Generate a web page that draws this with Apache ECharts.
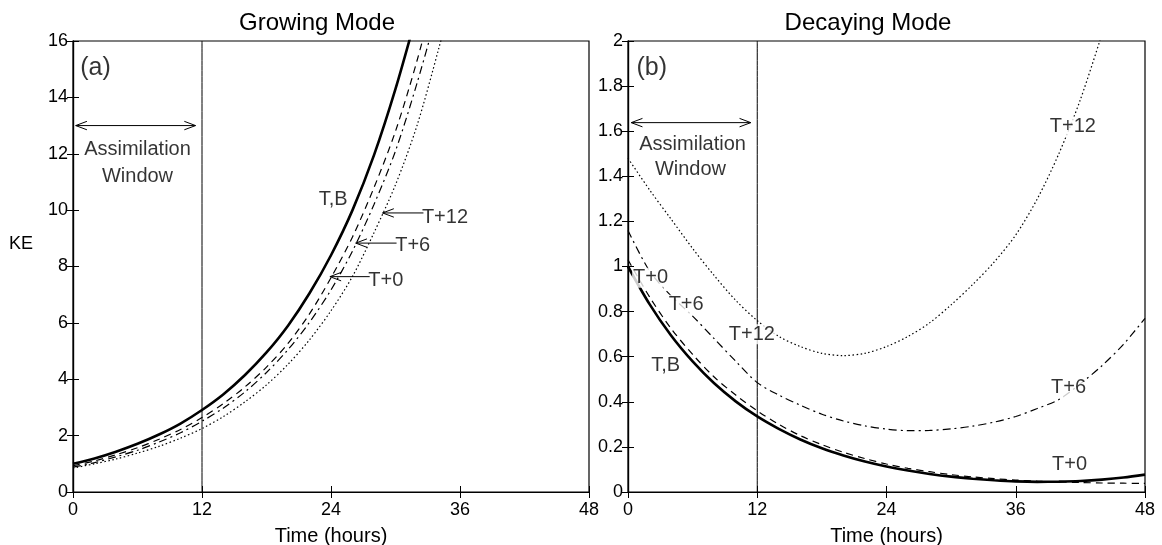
<!DOCTYPE html>
<html>
<head>
<meta charset="utf-8">
<script src="https://cdn.jsdelivr.net/npm/echarts@6/dist/echarts.min.js"></script>
<style>html,body{margin:0;padding:0;background:#fff}#c{width:1162px;height:545px}</style>
</head>
<body>
<div id="c"></div>
<script>
// ---------------- data ----------------
const xTicks = [0, 12, 24, 36, 48];
const hoursGrow = [0,2,4,6,8,10,12,14,16,18,20,22,24,26,28,30,32,34,36];
const hoursDecay = [0,2,4,6,8,10,12,14,16,18,20,22,24,26,28,30,32,34,36,38,40,42,44,46,48];

// Growing mode (a)
const growTB  = [1.00,1.19,1.43,1.71,2.04,2.43,2.91,3.47,4.15,4.95,5.90,7.05,8.40,10.0,11.95,14.3,17.0];
const growT0  = [0.93,1.10,1.32,1.57,1.87,2.22,2.64,3.14,3.73,4.43,5.27,6.32,7.60,9.05,10.8,12.8,15.3,18.2];
const growT6  = [0.88,1.04,1.25,1.48,1.77,2.10,2.51,2.98,3.55,4.24,5.05,6.02,7.17,8.55,10.2,12.1,14.5,17.2];
const growT12 = [0.85,1.00,1.17,1.38,1.62,1.91,2.25,2.68,3.20,3.80,4.53,5.40,6.43,7.65,9.20,10.9,13.0,15.7,18.6];

// Decaying mode (b)
const decTB  = [1.00,0.833,0.694,0.579,0.482,0.402,0.335,0.28,0.233,0.194,0.162,0.135,0.113,0.095,0.080,0.068,0.059,0.052,0.047,0.045,0.046,0.049,0.055,0.064,0.077];
const decT0  = [1.03,0.865,0.725,0.61,0.51,0.43,0.36,0.30,0.25,0.21,0.176,0.148,0.124,0.105,0.09,0.077,0.067,0.059,0.053,0.048,0.045,0.042,0.040,0.039,0.038];
const decT6  = [1.16,0.98,0.87,0.78,0.68,0.58,0.485,0.43,0.385,0.345,0.315,0.293,0.279,0.272,0.273,0.28,0.292,0.31,0.335,0.37,0.41,0.48,0.56,0.655,0.77];
const decT12 = [1.48,1.34,1.21,1.08,0.96,0.85,0.76,0.69,0.645,0.615,0.605,0.615,0.645,0.69,0.75,0.83,0.92,1.02,1.14,1.30,1.50,1.74,2.03];

const windowEnd = 12;
const growYMax = 16, decayYMax = 2;

// annotations: [x, y, text]
const growLabels = [[2.1, 15.05, '(a)'], [6.0, 12.15, 'Assimilation'], [6.0, 11.2, 'Window'],
  [24.2, 10.37, 'T,B'], [34.6, 9.75, 'T+12'], [31.6, 8.73, 'T+6'], [29.1, 7.5, 'T+0']];
const decayLabels = [[2.2, 1.88, '(b)'], [6.0, 1.54, 'Assimilation'], [5.8, 1.43, 'Window'],
  [2.1, 0.95, 'T+0'], [5.4, 0.83, 'T+6'], [11.5, 0.70, 'T+12'], [3.5, 0.56, 'T,B'],
  [41.3, 1.62, 'T+12'], [40.9, 0.463, 'T+6'], [41.0, 0.12, 'T+0']];
// arrows: [x1, y1, x2(tip), y2(tip), double]
const growArrows = [[0.25, 13.0, 11.4, 13.0, 1], [32.6, 9.9, 28.8, 9.9, 0], [30.1, 8.83, 26.3, 8.83, 0], [27.6, 7.64, 23.9, 7.64, 0]];
const decayArrows = [[0.3, 1.638, 11.4, 1.638, 1]];

// ---------------- chart ----------------
const FONT = "'Liberation Sans', Arial, sans-serif";
const pair = (xs, ys) => ys.map((v, i) => [xs[i], v]);

function arrowRender(params, api) {
  const a = api.coord([api.value(0), api.value(1)]);
  const b = api.coord([api.value(2), api.value(3)]);
  const dbl = api.value(4);
  const children = [{type: 'line', shape: {x1: a[0], y1: a[1], x2: b[0], y2: b[1]}, style: {stroke: '#000', lineWidth: 1}}];
  function head(tip, from) {
    const ang = Math.atan2(tip[1] - from[1], tip[0] - from[0]);
    const L = 12, w = 0.36;
    children.push({type: 'polyline', shape: {points: [
      [tip[0] - L * Math.cos(ang - w), tip[1] - L * Math.sin(ang - w)], tip,
      [tip[0] - L * Math.cos(ang + w), tip[1] - L * Math.sin(ang + w)]]},
      style: {stroke: '#000', fill: null, lineWidth: 1}});
  }
  head(b, a);
  if (dbl) head(a, b);
  return {type: 'group', children};
}

const axisCommon = {
  axisLine: {show: true, lineStyle: {color: '#000', width: 1.2}},
  axisTick: {show: true, inside: true, length: 6, lineStyle: {color: '#000', width: 1}},
  splitLine: {show: false},
};
function xAx(grid, pos, labels) {
  return Object.assign({}, axisCommon, {
    type: 'value', gridIndex: grid, position: pos, min: 0, max: 48, interval: 12,
    axisLabel: {show: labels, color: '#000', fontFamily: FONT, fontSize: 18, margin: 9},
    name: labels ? 'Time (hours)' : '', nameLocation: 'middle', nameGap: 34,
    nameTextStyle: {color: '#000', fontFamily: FONT, fontSize: 20}
  });
}
function yAx(grid, pos, labels, max, interval) {
  return Object.assign({}, axisCommon, {
    type: 'value', gridIndex: grid, position: pos, min: 0, max: max, interval: interval,
    axisLabel: {show: labels, color: '#000', fontFamily: FONT, fontSize: 18, margin: 5}
  });
}

function lineS(xi, yi, data, type, width) {
  return {type: 'line', xAxisIndex: xi, yAxisIndex: yi, data: data, showSymbol: false, symbol: 'none',
    smooth: 0.3, clip: true, animation: false,
    lineStyle: {color: '#000', width: width, type: type}, z: 3};
}
function labelS(xi, yi, labels, bg) {
  return {type: 'scatter', xAxisIndex: xi, yAxisIndex: yi, symbolSize: 1,
    data: labels.map(d => ({value: d, label: d[2].startsWith('(') ? {fontSize: 25} : {}})),
    itemStyle: {color: 'rgba(0,0,0,0)'}, animation: false, z: 5, silent: true,
    label: {show: true, position: 'inside', formatter: p => p.value[2], color: '#000',
      fontFamily: FONT, fontSize: 20, backgroundColor: bg ? '#fff' : 'transparent', padding: [0, 1]}};
}

const vLineGrow = [[windowEnd, 0], [windowEnd, growYMax]];
const vLineDecay = [[windowEnd, 0], [windowEnd, decayYMax]];

const dashed = [7, 5], dashDot = [8, 4, 2, 4], dotted = [1.5, 2.5];
const titleStyle = {fontFamily: FONT, fontSize: 24, fontWeight: 'normal', color: '#000'};

const option = {
  backgroundColor: '#fff',
  animation: false,
  title: [
    {text: 'Growing Mode', left: 312, top: 6, textAlign: 'center', textStyle: titleStyle},
    {text: 'Decaying Mode', left: 863, top: 6, textAlign: 'center', textStyle: titleStyle}
  ],
  grid: [
    {left: 73, top: 41, width: 516, height: 451, show: true, borderColor: '#000', borderWidth: 1.2,
      backgroundColor: '#fff', containLabel: false, outerBoundsMode: 'none'},
    {left: 628, top: 41, width: 517, height: 451, show: true, borderColor: '#000', borderWidth: 1.2,
      backgroundColor: '#fff', containLabel: false, outerBoundsMode: 'none'}
  ],
  xAxis: [xAx(0, 'bottom', true), xAx(0, 'top', false), xAx(1, 'bottom', true), xAx(1, 'top', false)],
  yAxis: [
    Object.assign(yAx(0, 'left', true, growYMax, 2), {name: 'KE\n\n', nameLocation: 'middle', nameRotate: 0, nameGap: 40,
      nameTextStyle: {color: '#000', fontFamily: FONT, fontSize: 18, lineHeight: 22}}),
    yAx(0, 'right', false, growYMax, 2),
    yAx(1, 'left', true, decayYMax, 0.2),
    yAx(1, 'right', false, decayYMax, 0.2)
  ],
  series: [
    lineS(0, 0, vLineGrow, 'solid', 1),
    lineS(0, 0, pair(hoursGrow, growTB), 'solid', 2.6),
    lineS(0, 0, pair(hoursGrow, growT0), dashed, 1.2),
    lineS(0, 0, pair(hoursGrow, growT6), dashDot, 1.2),
    lineS(0, 0, pair(hoursGrow, growT12), dotted, 1.2),
    lineS(2, 2, vLineDecay, 'solid', 1),
    lineS(2, 2, pair(hoursDecay, decTB), 'solid', 2.6),
    lineS(2, 2, pair(hoursDecay, decT0), dashed, 1.2),
    lineS(2, 2, pair(hoursDecay, decT6), dashDot, 1.2),
    lineS(2, 2, pair(hoursDecay, decT12), dotted, 1.2),
    {type: 'custom', xAxisIndex: 0, yAxisIndex: 0, renderItem: arrowRender, data: growArrows,
      encode: {x: [0, 2], y: [1, 3]}, clip: false, z: 4, silent: true},
    {type: 'custom', xAxisIndex: 2, yAxisIndex: 2, renderItem: arrowRender, data: decayArrows,
      encode: {x: [0, 2], y: [1, 3]}, clip: false, z: 4, silent: true},
    labelS(0, 0, growLabels, false),
    labelS(2, 2, decayLabels, true)
  ]
};

const chart = echarts.init(document.getElementById('c'), null, {renderer: 'canvas'});
chart.setOption(option);
</script>
</body>
</html>
